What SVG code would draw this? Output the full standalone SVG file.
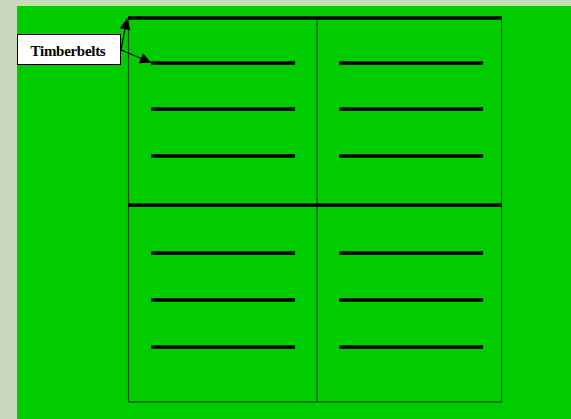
<svg xmlns="http://www.w3.org/2000/svg" width="571" height="419" viewBox="0 0 571 419">
<defs>
<marker id="ah" viewBox="0 0 10 10" refX="10" refY="5" markerWidth="12" markerHeight="11" markerUnits="userSpaceOnUse" orient="auto">
<path d="M0,0 L10,5 L0,10 z" fill="#000"/>
</marker>
<style>
.belt{stroke:#000;stroke-width:3.5}
.thin{stroke:#004d00;stroke-width:1.2;fill:none}
.thick{stroke:#000;stroke-width:3.5}
.arr{stroke:#000;stroke-width:1.2;fill:none}
</style>
</defs>
<rect x="0" y="0" width="571" height="419" fill="#c9d9bd"/>
<rect x="17" y="6" width="554" height="413" fill="#00cc00"/>
<g id="field">
<rect class="thin" x="128.5" y="18" width="373" height="384"/>
<line class="thin" x1="317" y1="18" x2="317" y2="402"/>
<line class="thick" x1="128" y1="18" x2="502" y2="18"/>
<line class="thick" x1="128" y1="205" x2="502" y2="205"/>
</g>
<g id="belts">
<line class="belt" x1="151" y1="63" x2="295" y2="63"/>
<line class="belt" x1="151" y1="109" x2="295" y2="109"/>
<line class="belt" x1="151" y1="156" x2="295" y2="156"/>
<line class="belt" x1="151" y1="253" x2="295" y2="253"/>
<line class="belt" x1="151" y1="300" x2="295" y2="300"/>
<line class="belt" x1="151" y1="347" x2="295" y2="347"/>
<line class="belt" x1="339" y1="63" x2="483" y2="63"/>
<line class="belt" x1="339" y1="109" x2="483" y2="109"/>
<line class="belt" x1="339" y1="156" x2="483" y2="156"/>
<line class="belt" x1="339" y1="253" x2="483" y2="253"/>
<line class="belt" x1="339" y1="300" x2="483" y2="300"/>
<line class="belt" x1="339" y1="347" x2="483" y2="347"/>
</g>
<g id="label">
<rect x="17.5" y="34.5" width="103" height="30" fill="#fff" stroke="#000" stroke-width="1"/>
<text x="68" y="56" text-anchor="middle" font-family="Liberation Serif, serif" font-weight="bold" font-size="15" letter-spacing="-0.3">Timberbelts</text>
</g>
<g id="connectors">
<line class="arr" x1="121" y1="50" x2="127" y2="18.5" marker-end="url(#ah)"/>
<line class="arr" x1="121" y1="50" x2="151" y2="62.5" marker-end="url(#ah)"/>
</g>
</svg>
